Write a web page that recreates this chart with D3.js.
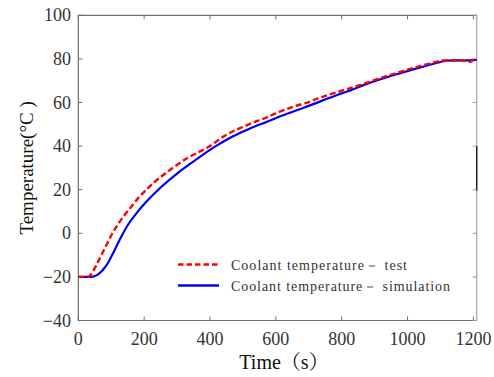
<!DOCTYPE html>
<html>
<head>
<meta charset="utf-8">
<script src="https://cdn.jsdelivr.net/npm/d3@7"></script>
<style>
  html, body { margin: 0; padding: 0; background: #fff; }
  svg { display: block; }
</style>
</head>
<body>
<svg id="chart" width="494" height="377"></svg>
<script>
// Coolant temperature during warm-up: measured vs. simulated
const testTime = [0, 30, 40, 55, 70, 85, 100, 120, 140, 160, 180, 200, 230, 260, 290, 330, 360, 400, 440, 470, 500, 530, 570, 600, 630, 660, 700, 730, 760, 800, 835, 865, 905, 940, 970, 1005, 1040, 1080, 1110, 1140, 1170, 1190, 1200, 1210];
const testTemp = [-20, -20, -18.5, -14.5, -10, -5.5, -1, 4, 8.3, 12, 15.8, 19, 23.3, 27, 30.3, 34.4, 36.8, 40, 44.3, 46.8, 48.8, 50.7, 53, 55, 56.8, 58.4, 60.2, 62, 63.5, 65.4, 67, 68.5, 70.6, 72.3, 73.7, 75.3, 76.8, 78.4, 79.3, 79.3, 79.2, 78.7, 79.5, 80];

const simTime = [0, 40, 50, 60, 70, 80, 90, 100, 110, 120, 130, 150, 180, 210, 250, 300, 350, 400, 420, 470, 520, 570, 620, 670, 720, 760, 800, 830, 870, 920, 970, 1020, 1060, 1100, 1120, 1150, 1180, 1200, 1210];
const simTemp = [-20, -20, -19.6, -18.8, -17.5, -15.8, -13.6, -10.8, -7.8, -4.7, -1.7, 3.7, 9.8, 15, 21, 27.4, 33, 38.3, 40.2, 44.5, 48, 51, 54, 56.8, 59.6, 62, 64.2, 65.8, 68.2, 70.8, 73.1, 75.3, 77, 78.6, 79.2, 79.3, 79.3, 79.4, 79.6];

const xTicks = [0, 200, 400, 600, 800, 1000, 1200];
const yTicks = [-40, -20, 0, 20, 40, 60, 80, 100];

const legendLabels = ["Coolant temperature－ test", "Coolant temperature－ simulation"];
const seriesColors = ["#ff0000", "#0000ee"];

const serif = "'Liberation Serif', 'Times New Roman', 'DejaVu Serif', serif";
const svg = d3.select("#chart").style("font-family", serif);
const plotL = 78.3, plotR = 476.7, plotT = 15.3, plotB = 320.5;

const x = d3.scaleLinear().domain([0, 1210]).range([plotL, plotR]);
const y = d3.scaleLinear().domain([-40, 100]).range([plotB, plotT]);

const axisColor = "#6e6e6e";
const labelColor = "#333";
const tickLen = 4;

// Frame: left, bottom, top and a lighter right edge
const g = svg.append("g");
g.append("line").attr("x1", plotL).attr("x2", plotL).attr("y1", plotT).attr("y2", plotB).attr("stroke", axisColor).attr("stroke-width", 1.2);
g.append("line").attr("x1", plotL).attr("x2", plotR).attr("y1", plotB).attr("y2", plotB).attr("stroke", axisColor).attr("stroke-width", 1.2);
g.append("line").attr("x1", plotL).attr("x2", plotR).attr("y1", plotT).attr("y2", plotT).attr("stroke", axisColor).attr("stroke-width", 1.2);
g.append("line").attr("x1", plotR).attr("x2", plotR).attr("y1", plotT).attr("y2", plotB).attr("stroke", "#b4b4b4").attr("stroke-width", 1.5);
g.append("line").attr("x1", plotR).attr("x2", plotR).attr("y1", y(40)).attr("y2", y(19.5)).attr("stroke", "#111").attr("stroke-width", 1.3);

// Inward ticks on all four sides
xTicks.forEach(t => {
  g.append("line").attr("x1", x(t)).attr("x2", x(t)).attr("y1", plotB).attr("y2", plotB - tickLen).attr("stroke", axisColor);
  g.append("line").attr("x1", x(t)).attr("x2", x(t)).attr("y1", plotT).attr("y2", plotT + tickLen).attr("stroke", axisColor);
  g.append("text").attr("x", x(t)).attr("y", 345).attr("text-anchor", "middle")
    .style("font-family", serif).attr("font-size", 18).attr("fill", labelColor).text(t);
});
yTicks.forEach(v => {
  g.append("line").attr("x1", plotL).attr("x2", plotL + tickLen).attr("y1", y(v)).attr("y2", y(v)).attr("stroke", axisColor);
  g.append("line").attr("x1", plotR).attr("x2", plotR - tickLen).attr("y1", y(v)).attr("y2", y(v)).attr("stroke", "#9a9a9a");
  g.append("text").attr("x", 71).attr("y", y(v) + 6).attr("text-anchor", "end")
    .style("font-family", serif).attr("font-size", 18).attr("fill", labelColor)
    .text(v < 0 ? "\u2212" + Math.abs(v) : v);
});

// Axis titles
svg.append("text").attr("transform", `translate(33,${(plotT + plotB) / 2}) rotate(-90)`)
  .attr("text-anchor", "middle").style("font-family", serif).attr("font-size", 19).attr("fill", "#111")
  .text("Temperature(°C )");
svg.append("text").attr("x", 284).attr("y", 369).attr("text-anchor", "middle")
  .attr("font-size", 20).attr("fill", "#111")
  .style("font-family", "'Liberation Serif', 'Noto Serif CJK SC', 'Noto Sans CJK SC', serif")
  .text("Time（s）");

// Curves
const line = d3.line().x(d => x(d[0])).y(d => y(d[1])).curve(d3.curveMonotoneX);
const simData = d3.zip(simTime, simTemp);
const testData = d3.zip(testTime, testTemp);

svg.append("path").datum(simData).attr("d", line)
  .attr("fill", "none").attr("stroke", seriesColors[1]).attr("stroke-width", 2.2);
svg.append("path").datum(testData).attr("d", line)
  .attr("fill", "none").attr("stroke", seriesColors[0]).attr("stroke-width", 2.4)
  .attr("stroke-dasharray", "6,3");

// Legend
const legend = svg.append("g");
const rows = [
  { label: legendLabels[0], color: seriesColors[0], dash: "5.5,3", y: 264.5, width: 176 },
  { label: legendLabels[1], color: seriesColors[1], dash: null, y: 285.5, width: 219 }
];
rows.forEach(r => {
  legend.append("line").attr("x1", 178).attr("x2", 219).attr("y1", r.y).attr("y2", r.y)
    .attr("stroke", r.color).attr("stroke-width", 2.4)
    .attr("stroke-dasharray", r.dash);
  legend.append("text").attr("x", 231).attr("y", r.y + 5).attr("font-size", 14)
    .style("font-family", serif).attr("fill", "#333")
    .attr("textLength", r.width).attr("lengthAdjust", "spacing")
    .text(r.label);
});
</script>
</body>
</html>
